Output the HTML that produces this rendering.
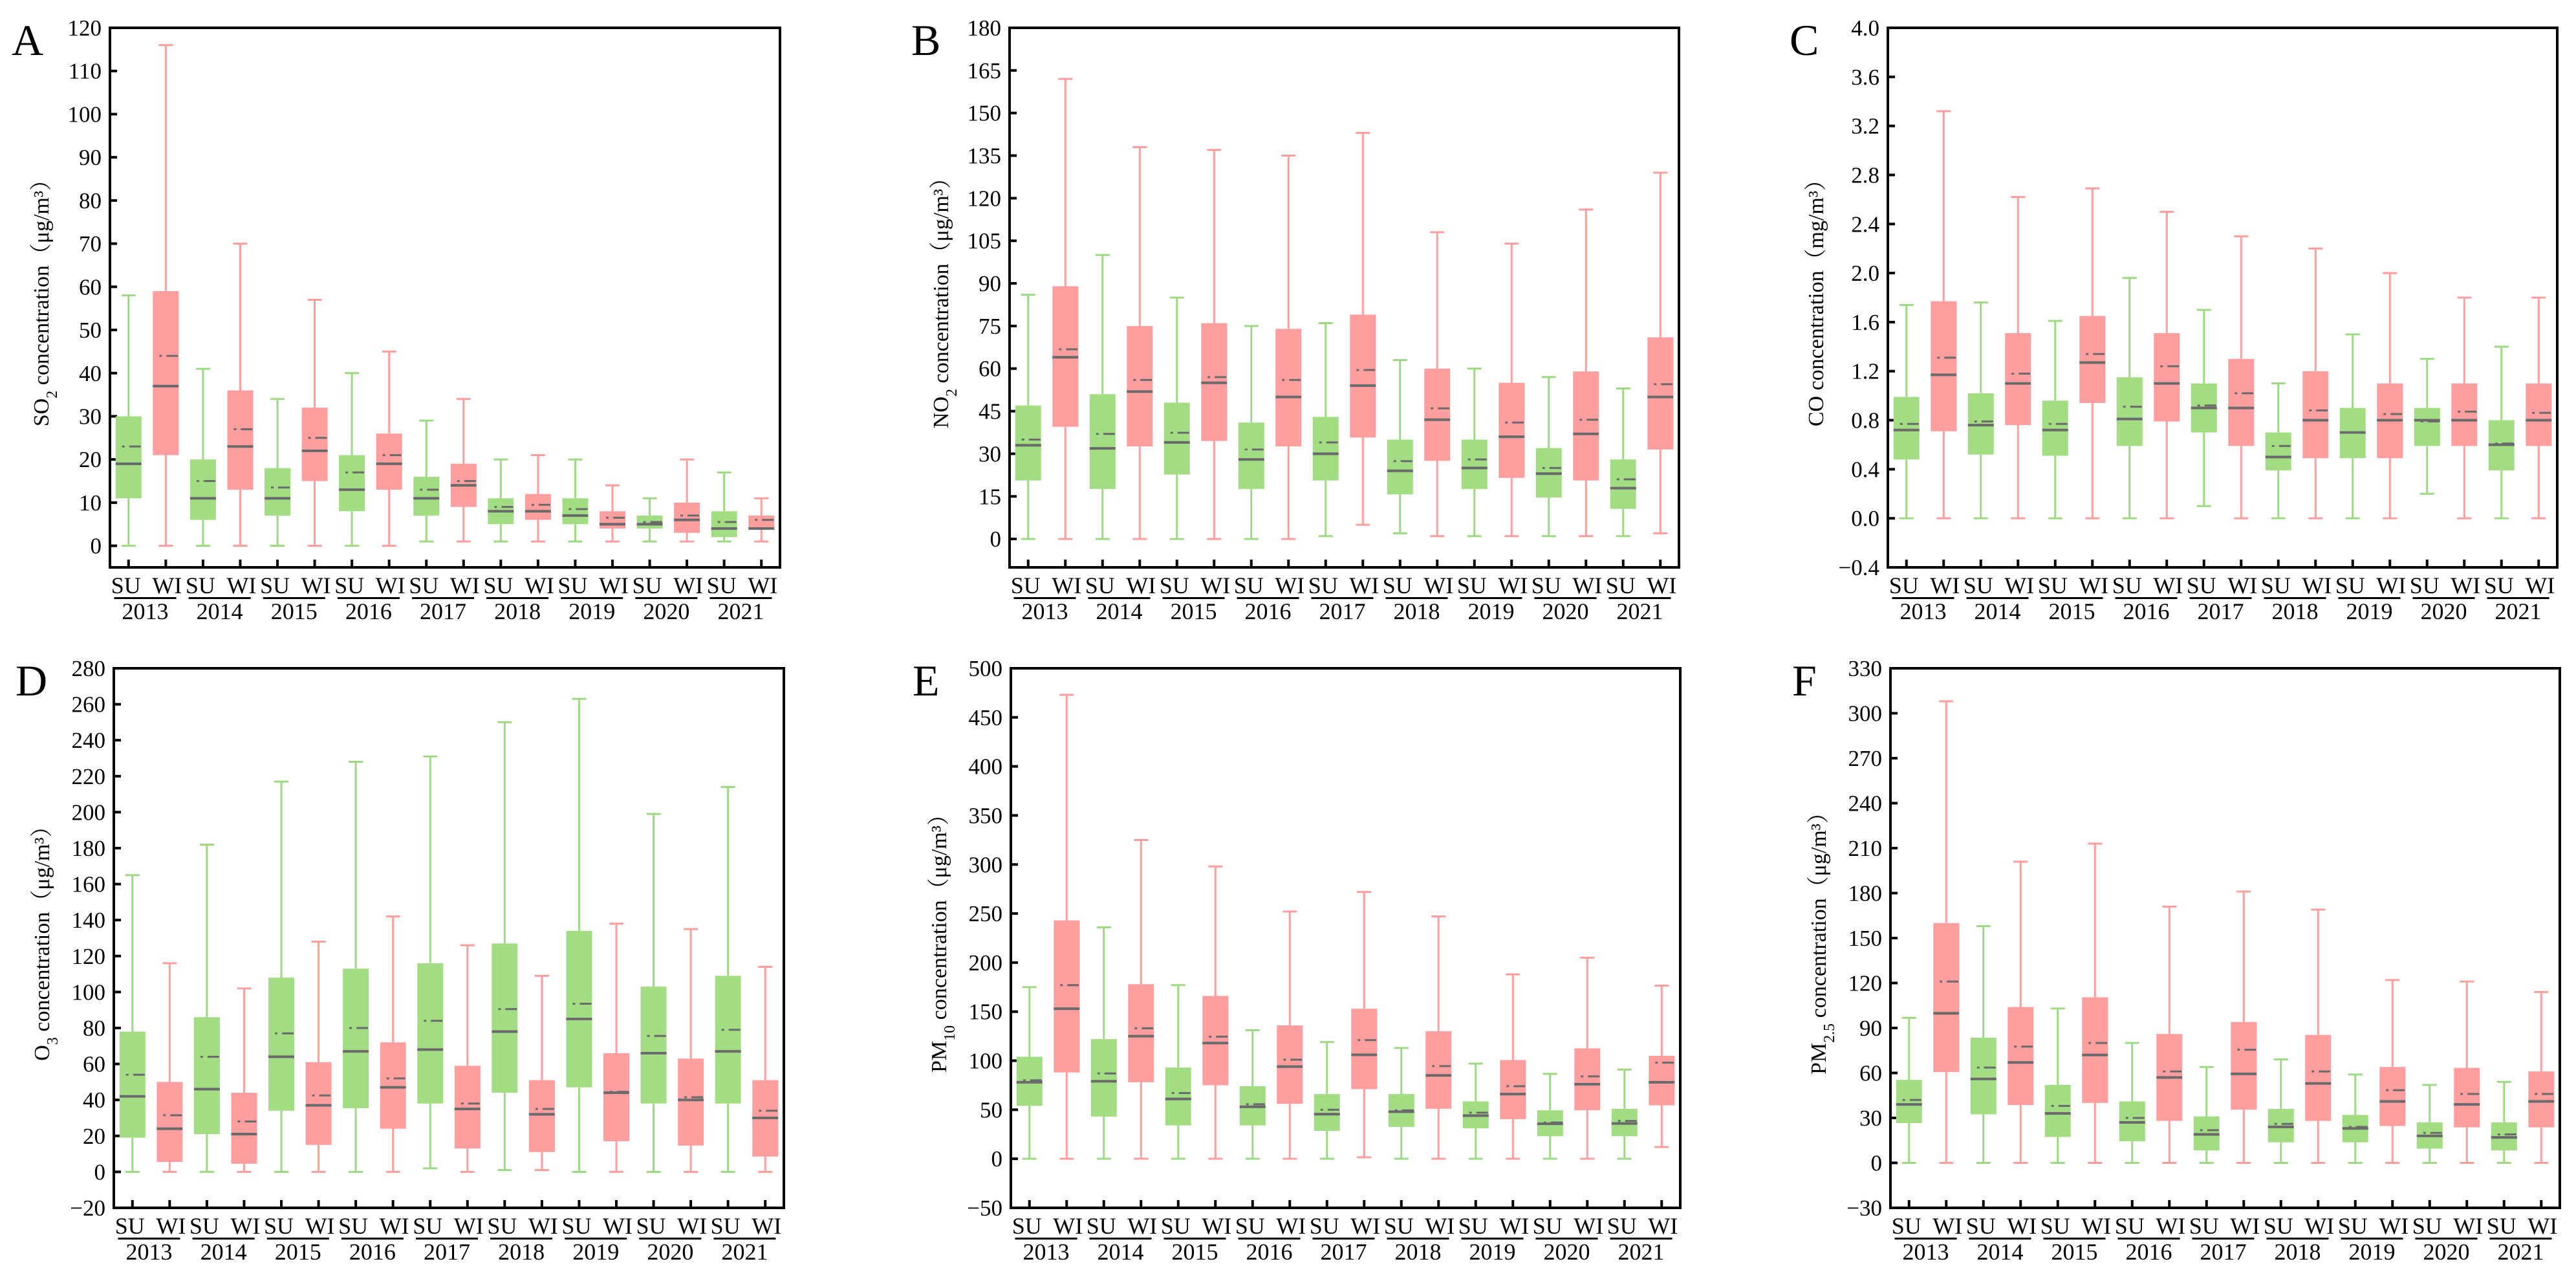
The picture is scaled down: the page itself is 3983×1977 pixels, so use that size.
<!DOCTYPE html>
<html>
<head>
<meta charset="utf-8">
<style>
  html,body{margin:0;padding:0;background:#fff;}
  svg{display:block;}
  svg text{font-family:"Liberation Serif","Noto Serif CJK SC",serif;fill:#000;}
</style>
</head>
<body>
<svg id="fig" xmlns="http://www.w3.org/2000/svg" width="3983" height="1977" viewBox="0 0 3983 1977" font-family="Liberation Serif, Noto Serif CJK SC, serif"></svg>
<script>
// Order of every array: SU2013, WI2013, SU2014, WI2014, ... SU2021, WI2021
const years = ["2013","2014","2015","2016","2017","2018","2019","2020","2021"];
const seasons = ["SU","WI"];

// A: SO2
const so2Min  = [0,0, 0,0, 0,0, 0,0, 1,1, 1,1, 1,1, 1,1, 1,1];
const so2Q1   = [11,21, 6,13, 7,15, 8,13, 7,9, 5,6, 5,4, 4,3, 2,4];
const so2Med  = [19,37, 11,23, 11,22, 13,19, 11,14, 8,8, 7,5, 5,6, 4,4];
const so2Mean = [23,44, 15,27, 13.5,25, 17,21, 13,15, 9,9.5, 8.5,6.5, 5.5,7, 5.5,6];
const so2Q3   = [30,59, 20,36, 18,32, 21,26, 16,19, 11,12, 11,8, 7,10, 8,7];
const so2Max  = [58,116, 41,70, 34,57, 40,45, 29,34, 20,21, 20,14, 11,20, 17,11];
const so2Ticks = [0,10,20,30,40,50,60,70,80,90,100,110,120];

// B: NO2
const no2Min  = [0,0, 0,0, 0,0, 0,0, 1,5, 2,1, 1,1, 1,1, 1,2];
const no2Q1   = [20.6,39.5, 17.6,32.6, 22.7,34.5, 17.6,32.6, 20.6,35.7, 15.7,27.5, 17.6,21.5, 14.6,20.6, 10.6,31.5];
const no2Med  = [33,64, 31.9,51.9, 34,55, 28,50, 30,54, 24,42, 25,36, 23,37, 17.9,50];
const no2Mean = [35,66.8, 37,56, 37.4,57, 31.5,56, 34,59.5, 27.4,46, 28,41, 25,42, 21,54.5];
const no2Q3   = [47,89, 51,75, 48,76, 41,74, 43,79, 35,60, 35,55, 32,59, 28,71];
const no2Max  = [86,162, 100,138, 85,137, 75,135, 76,143, 63,108, 60,104, 57,116, 53,129];
const no2Ticks = [0,15,30,45,60,75,90,105,120,135,150,165,180];

// C: CO
const coMin  = [0,0, 0,0, 0,0, 0,0, 0.1,0, 0,0, 0,0, 0.2,0, 0,0];
const coQ1   = [0.48,0.71, 0.52,0.76, 0.51,0.94, 0.59,0.79, 0.70,0.59, 0.39,0.49, 0.49,0.49, 0.59,0.59, 0.39,0.59];
const coMed  = [0.72,1.17, 0.76,1.10, 0.72,1.27, 0.81,1.10, 0.90,0.90, 0.50,0.80, 0.70,0.80, 0.80,0.80, 0.60,0.80];
const coMean = [0.77,1.31, 0.79,1.18, 0.77,1.34, 0.91,1.24, 0.92,1.02, 0.59,0.88, 0.70,0.85, 0.79,0.87, 0.61,0.86];
const coQ3   = [0.99,1.77, 1.02,1.51, 0.96,1.65, 1.15,1.51, 1.10,1.30, 0.70,1.20, 0.90,1.10, 0.90,1.10, 0.80,1.10];
const coMax  = [1.74,3.32, 1.76,2.62, 1.61,2.69, 1.96,2.50, 1.70,2.30, 1.10,2.20, 1.50,2.00, 1.30,1.80, 1.40,1.80];
const coTicks = [-0.4,0,0.4,0.8,1.2,1.6,2.0,2.4,2.8,3.2,3.6,4.0];

// D: O3
const o3Min  = [0,0, 0,0, 0,0, 0,0, 2,0, 1,1, 0,0, 0,0, 0,0];
const o3Q1   = [19,5.5, 21,4.5, 34,15, 35.4,24, 38,13, 44,11, 47,17, 38,14.6, 38,8.5];
const o3Med  = [42,24, 46,21, 64,37, 67,47, 68,35, 78,32, 85,44, 66,40, 67,30];
const o3Mean = [54,31.5, 64,28, 77,42.5, 80,52, 84,38, 90.5,35, 93.5,44.5, 75.6,41.5, 79,34];
const o3Q3   = [78,50, 86,44, 108,61, 113,72, 116,59, 127,51, 134,66, 103,63, 109,51];
const o3Max  = [165,116, 182,102, 217,128, 228,142, 231,126, 250,109, 263,138, 199,135, 214,114];
const o3Ticks = [-20,0,20,40,60,80,100,120,140,160,180,200,220,240,260,280];

// E: PM10
const pm10Min  = [0,0, 0,0, 0,0, 0,0, 0,1.5, 0,0, 0,0, 0,0, 0,12];
const pm10Q1   = [54,88, 43,78, 34,75, 34,56, 28.5,71, 32.5,51, 31,40.4, 23,49.4, 23,54.5];
const pm10Med  = [78,153, 79,125, 61,118, 53,94, 45.5,106, 48,85, 44,66, 35.7,76, 36,78];
const pm10Mean = [80,177, 87,133, 67,124.5, 55.6,101, 50,121, 49.4,94.5, 47,74, 37,84, 38.6,98];
const pm10Q3   = [104,243, 122,178, 93,166, 74,136, 66,153, 66,130, 58.5,100.7, 49.4,112.6, 51,105];
const pm10Max  = [175,473, 236,325, 177,298, 131,252, 119,272, 113,247, 97,188, 86.6,205, 91,176.5];
const pm10Ticks = [-50,0,50,100,150,200,250,300,350,400,450,500];

// F: PM2.5
const pm25Min  = [0,0, 0,0, 0,0, 0,0, 0,0, 0,0, 0,0, 0,0, 0,0];
const pm25Q1   = [26.5,60.6, 32.4,38.6, 17.3,40, 14.4,28, 8.3,35.5, 13.7,28, 13.7,24.6, 9.5,23.7, 8.3,23.7];
const pm25Med  = [39,99.8, 56,67, 33,72, 27,57, 19,59.4, 24,53, 23,41, 18,39, 17,41];
const pm25Mean = [42,121, 63.6,77.6, 38,80, 30,61, 21.8,75.5, 26,61, 24,48.5, 20,46, 19,46];
const pm25Q3   = [55.4,160, 83.5,104, 52,110.5, 41,86, 31,94, 36,85.4, 32,64, 27,63.4, 27,61];
const pm25Max  = [96.8,308, 158,201, 103,213, 80,171, 64,181, 69,169, 59,122, 52,121, 54,114];
const pm25Ticks = [-30,0,30,60,90,120,150,180,210,240,270,300,330];

const NS = "http://www.w3.org/2000/svg";
const svg = document.getElementById("fig");
const FONT = "Liberation Serif, Noto Serif CJK SC, serif";
const GREEN_FILL = "#a2dd84", GREEN_LINE = "#9dd983";
const RED_FILL = "#ff9e9e", RED_LINE = "#ff9c9c";
const STAT = "#6a6a6a";

function mk(tag, attrs, parent){
  const e = document.createElementNS(NS, tag);
  for (const k in attrs) e.setAttribute(k, attrs[k]);
  if (tag === "text") e.setAttribute("font-family", FONT);
  (parent || svg).appendChild(e);
  return e;
}

function drawPanel(p){
  const g = mk("g", {});
  
  
  const W = p.right - p.left, H = p.bottom - p.top;
  const n = p.q1.length;
  const xs = i => p.left + (i + 0.5) * W / n;
  const ys = v => p.bottom - (v - p.ymin) / (p.ymax - p.ymin) * H;

  const lt = mk("text", {x: p.left - 152, y: p.top + 42, "font-size": 68}, g);
  lt.textContent = p.letter;
  
  

  const yt = mk("text", {x: 0, y: 0, "font-size": 34, "text-anchor": "middle",
    transform: "translate(" + (p.left - p.titleOff) + "," + ((p.top + p.bottom)/2) + ") rotate(-90)"}, g);
  
  
  p.title.forEach(part => {
    const ts = mk("tspan", {}, yt);
    if (part.sub){ ts.setAttribute("baseline-shift", "sub"); ts.setAttribute("font-size", 24); }
    ts.textContent = part.t;
  });

  p.ticks.forEach(t => {
    const y = ys(t);
    const tk = mk("rect", {x: p.left, y: y - 2, width: 11, height: 4, fill: "#000"}, g);
    
    
    const tl = mk("text", {x: p.left - 13, y: y + 12, "font-size": 35, "text-anchor": "end"}, g);
    tl.textContent = (p.dec ? t.toFixed(p.dec) : String(t)).replace("-", "\u2212");
    
    
  });

  for (let i = 0; i < n; i++){
    const su = i % 2 === 0;
    const fill = su ? GREEN_FILL : RED_FILL, line = su ? GREEN_LINE : RED_LINE;
    const cx = xs(i), bw = 40, cw = 22;
    const bg = mk("g", {}, g);
    
    
    mk("line", {x1: cx, x2: cx, y1: ys(p.min[i]), y2: ys(p.q1[i]), stroke: line, "stroke-width": 3}, bg);
    mk("line", {x1: cx, x2: cx, y1: ys(p.q3[i]), y2: ys(p.max[i]), stroke: line, "stroke-width": 3}, bg);
    mk("line", {x1: cx - cw/2, x2: cx + cw/2, y1: ys(p.min[i]), y2: ys(p.min[i]), stroke: line, "stroke-width": 3}, bg);
    mk("line", {x1: cx - cw/2, x2: cx + cw/2, y1: ys(p.max[i]), y2: ys(p.max[i]), stroke: line, "stroke-width": 3}, bg);
    mk("rect", {x: cx - bw/2, y: ys(p.q3[i]), width: bw, height: Math.max(1, ys(p.q1[i]) - ys(p.q3[i])), fill: fill}, bg);
    mk("rect", {x: cx - bw/2, y: ys(p.med[i]) - 2, width: bw, height: 4, fill: STAT}, bg);
    const my = ys(p.mean[i]);
    mk("rect", {x: cx - 10, y: my - 1.5, width: 4, height: 3, fill: STAT}, bg);
    mk("rect", {x: cx + 1, y: my - 1.5, width: 18, height: 3, fill: STAT}, bg);
  }

  for (let i = 0; i < n; i++){
    const xt = mk("rect", {x: xs(i) - 2, y: p.bottom - 12, width: 4, height: 12, fill: "#000"}, g);
    
    
    const sl = mk("text", {x: xs(i) + (i % 2 === 0 ? -4 : 2), y: p.bottom + 40, "font-size": 36, "text-anchor": "middle"}, g);
    sl.textContent = seasons[i % 2];
    
    
  }
  years.forEach((yr, k) => {
    const c = (xs(2*k) + xs(2*k+1)) / 2 - 3;
    const ul = mk("rect", {x: c - 48, y: p.bottom + 46, width: 96, height: 3, fill: "#000"}, g);
    
    
    const yl = mk("text", {x: c, y: p.bottom + 80, "font-size": 36, "text-anchor": "middle"}, g);
    yl.textContent = yr;
    
    
  });

  const fr = mk("rect", {x: p.left, y: p.top, width: W, height: H, fill: "none", stroke: "#000", "stroke-width": 4}, g);
  
  
}

drawPanel({letter:"A", left:170, right:1206, top:43, bottom:877, ymin:-5, ymax:120, ticks:so2Ticks, dec:0, titleOff:95,
  min:so2Min, q1:so2Q1, med:so2Med, mean:so2Mean, q3:so2Q3, max:so2Max,
  title:[{t:"SO"},{t:"2",sub:true},{t:" concentration\uFF08\u03BCg/m\u00B3\uFF09"}]});
drawPanel({letter:"B", left:1561, right:2596, top:43, bottom:877, ymin:-10, ymax:180, ticks:no2Ticks, dec:0, titleOff:95,
  min:no2Min, q1:no2Q1, med:no2Med, mean:no2Mean, q3:no2Q3, max:no2Max,
  title:[{t:"NO"},{t:"2",sub:true},{t:" concentration\uFF08\u03BCg/m\u00B3\uFF09"}]});
drawPanel({letter:"C", left:2919, right:3954, top:43, bottom:877, ymin:-0.4, ymax:4.0, ticks:coTicks, dec:1, titleOff:100,
  min:coMin, q1:coQ1, med:coMed, mean:coMean, q3:coQ3, max:coMax,
  title:[{t:"CO concentration\uFF08mg/m\u00B3\uFF09"}]});
drawPanel({letter:"D", left:176, right:1212, top:1033, bottom:1867, ymin:-20, ymax:280, ticks:o3Ticks, dec:0, titleOff:100,
  min:o3Min, q1:o3Q1, med:o3Med, mean:o3Mean, q3:o3Q3, max:o3Max,
  title:[{t:"O"},{t:"3",sub:true},{t:" concentration\uFF08\u03BCg/m\u00B3\uFF09"}]});
drawPanel({letter:"E", left:1563, right:2598, top:1033, bottom:1867, ymin:-50, ymax:500, ticks:pm10Ticks, dec:0, titleOff:100,
  min:pm10Min, q1:pm10Q1, med:pm10Med, mean:pm10Mean, q3:pm10Q3, max:pm10Max,
  title:[{t:"PM"},{t:"10",sub:true},{t:" concentration\uFF08\u03BCg/m\u00B3\uFF09"}]});
drawPanel({letter:"F", left:2923, right:3958, top:1033, bottom:1867, ymin:-30, ymax:330, ticks:pm25Ticks, dec:0, titleOff:100,
  min:pm25Min, q1:pm25Q1, med:pm25Med, mean:pm25Mean, q3:pm25Q3, max:pm25Max,
  title:[{t:"PM"},{t:"2.5",sub:true},{t:" concentration\uFF08\u03BCg/m\u00B3\uFF09"}]});
</script>
</body>
</html>
